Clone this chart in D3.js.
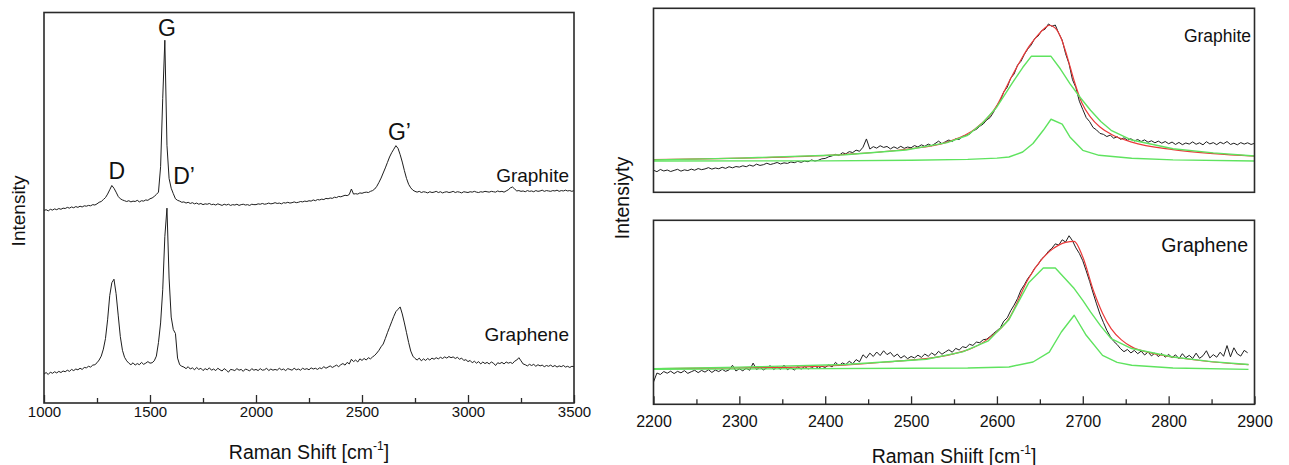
<!DOCTYPE html>
<html>
<head>
<meta charset="utf-8">
<script src="https://cdn.jsdelivr.net/npm/d3@7"></script>
<style>
  body { margin: 0; background: #fff; }
  svg { display: block; font-family: "Liberation Sans", Arial, sans-serif; }
</style>
</head>
<body>
<svg id="chart" width="1289" height="465"></svg>
<script>
// ---------- Overview spectra: 1000–3500 cm⁻¹, one sample every 10 cm⁻¹ ----------
const overviewStart = 1000, overviewEnd = 3500, overviewStep = 10;

const graphiteOverview = [
  49.3,49.5,49.2,49.6,49.4,49.7,49.5,49.8,49.6,49.9,
  49.8,50.1,49.9,50.2,50.0,50.3,50.1,50.4,50.2,50.5,
  50.4,50.6,50.5,50.8,50.7,51.0,51.4,51.6,52.1,52.6,
  53.5,54.6,55.7,55.0,54.0,52.9,52.3,52.0,51.8,51.6,
  51.8,51.5,51.7,51.6,51.9,51.5,51.8,51.7,52.0,51.9,
  52.3,52.5,52.9,53.4,54.0,60.5,78.0,92.9,66.0,57.5,
  55.0,53.6,52.3,51.9,51.7,51.4,51.5,51.2,51.4,51.1,
  51.3,51.0,51.2,50.9,51.1,50.8,51.0,50.9,51.1,50.8,
  50.9,50.7,51.0,50.8,50.6,50.9,50.7,50.9,50.6,50.8,
  50.7,50.9,50.6,50.8,50.9,50.7,50.8,50.6,50.9,50.8,
  50.8,51.0,50.9,51.1,50.9,51.0,51.2,51.0,51.1,51.3,
  51.1,51.2,51.0,51.3,51.2,51.4,51.2,51.3,51.5,51.3,
  51.4,51.6,51.5,51.7,51.6,51.8,51.7,52.0,51.8,52.1,
  52.0,52.2,52.1,52.4,52.3,52.5,52.4,52.7,52.6,52.9,
  52.8,53.0,53.2,53.1,53.4,54.8,53.5,53.6,53.5,53.8,
  53.7,53.9,54.0,53.9,54.2,54.4,54.8,55.5,56.5,57.6,
  58.9,60.2,61.6,63.0,64.1,65.0,65.9,65.2,63.6,61.7,
  59.5,57.5,56.0,55.1,54.5,54.2,54.0,54.2,53.9,54.1,
  54.0,53.8,54.1,53.9,54.0,54.2,53.9,54.1,53.8,54.0,
  54.1,53.9,54.0,54.2,53.9,54.1,54.0,53.8,54.1,54.0,
  53.9,54.1,54.0,54.2,54.0,53.9,54.1,54.0,54.2,54.1,
  54.0,54.2,54.1,54.0,54.3,54.1,54.2,54.0,54.3,54.6,
  55.1,55.3,54.8,54.3,54.4,54.2,54.3,54.1,54.4,54.2,
  54.3,54.1,54.4,54.2,54.3,54.5,54.2,54.4,54.3,54.2,
  54.4,54.3,54.5,54.2,54.4,54.3,54.5,54.3,54.4,54.2,
  54.4
];

const grapheneOverview = [
  7.4,7.8,7.3,7.9,7.6,8.0,7.7,8.1,7.8,8.2,
  8.0,8.4,8.1,8.6,8.3,8.7,8.5,8.9,8.6,9.1,
  9.0,9.4,9.2,9.7,9.8,10.3,11.0,12.0,13.8,16.5,
  21.3,27.5,30.8,31.7,28.0,22.5,17.0,13.5,11.7,10.8,
  10.2,9.8,10.3,9.7,10.1,9.8,10.4,9.9,10.2,10.6,
  10.2,10.3,10.8,12.0,15.5,20.5,29.0,42.6,49.9,32.0,
  22.0,18.8,17.8,11.5,9.8,9.4,9.2,8.8,9.3,8.7,
  9.0,8.5,9.1,8.6,8.9,8.3,8.8,8.5,9.0,8.4,
  8.7,8.3,8.9,8.5,8.2,8.8,8.4,7.9,8.6,8.5,
  8.3,8.8,8.4,8.6,8.1,8.7,8.5,8.2,8.8,8.4,
  8.6,8.3,8.8,8.4,8.5,8.9,8.3,8.7,8.4,8.6,
  8.4,8.9,8.5,8.7,8.3,8.8,8.6,8.4,8.9,8.5,
  8.7,8.4,8.9,8.6,8.8,8.5,9.0,8.7,8.9,8.6,
  9.0,8.8,9.3,8.9,9.2,9.5,9.1,9.4,9.7,9.3,
  9.8,10.1,9.7,10.4,10.0,11.2,10.6,11.0,10.5,11.3,
  10.9,11.4,11.0,11.6,11.3,11.8,12.2,12.8,13.5,14.4,
  15.1,16.5,18.0,19.4,20.8,22.2,23.4,24.0,24.6,22.8,
  20.5,18.0,15.5,13.3,12.0,11.4,11.0,11.5,10.8,11.3,
  10.9,11.4,11.0,11.5,11.2,11.6,11.3,11.7,11.4,11.8,
  11.5,11.9,11.6,11.8,11.4,11.7,11.2,11.5,10.9,11.1,
  10.6,10.9,10.3,10.7,10.2,10.6,10.0,10.5,10.1,10.4,
  10.0,10.5,10.2,9.6,10.3,10.1,10.4,10.0,10.5,10.2,
  10.4,10.1,10.7,11.0,11.6,10.8,10.0,9.8,9.5,9.9,
  9.6,9.9,9.4,9.8,9.5,9.7,9.3,9.6,9.4,9.7,
  9.3,9.6,9.2,9.5,9.3,9.6,9.2,9.4,9.1,9.4,
  9.3
];

const overviewTicks = [1000, 1500, 2000, 2500, 3000, 3500];
const overviewMinorTicks = [1250, 1750, 2250, 2750, 3250];

// Band names and the wavenumber of the graphite band each one marks
const bandNames = ["D", "G", "D\u2019", "G\u2019"];
const bandShifts = [1320, 1570, 1600, 2660];

// ---------- 2D (G') band detail: 2200–2900 cm⁻¹, one sample every 4 cm⁻¹ ----------
const detailStep = 4;

const graphiteDetail = [
  12.0,11.2,12.4,11.6,12.1,11.3,11.9,12.5,11.5,12.2,11.8,12.6,12.0,12.9,12.3,12.7,13.4,12.6,13.2,12.8,13.6,13.0,13.9,13.3,14.0,
  13.7,14.4,13.9,14.8,14.2,15.3,14.6,15.0,15.8,15.1,15.6,16.2,15.4,16.0,15.7,16.5,16.1,16.8,16.3,17.0,16.6,17.6,17.0,17.4,18.2,
  18.4,19.3,19.8,20.6,20.0,21.5,20.9,22.1,21.6,22.9,22.3,24.5,29.0,23.5,24.8,24.0,25.3,24.4,24.9,23.6,24.7,23.8,25.0,23.9,24.6,
  24.2,25.4,24.6,25.8,25.0,26.2,25.3,26.5,27.8,26.4,27.5,28.4,27.6,29.0,28.7,30.4,30.9,31.6,33.4,34.2,35.9,37.1,39.3,40.6,43.5,
  47.2,49.8,54.6,57.1,62.0,64.3,69.1,71.2,75.0,77.9,80.1,83.6,84.9,87.8,88.6,91.5,90.2,90.9,86.4,82.7,75.3,69.8,61.2,56.9,49.5,
  45.0,40.6,38.4,35.2,33.9,32.0,31.5,30.3,31.1,29.4,30.2,28.8,29.6,28.3,29.1,27.9,28.7,27.6,28.5,27.2,28.0,26.9,27.8,26.7,27.6,
  26.4,27.3,26.0,27.1,25.9,26.8,26.2,27.4,26.1,26.9,25.8,27.5,26.3,27.0,25.9,27.2,26.4,27.6,26.0,26.7,25.8,27.0,26.2,26.9,26.0,26.6
];

const grapheneDetail = [
  12.1,17.0,16.2,17.8,16.9,18.0,16.7,17.9,17.1,18.3,16.8,17.7,18.5,17.2,18.4,17.5,18.8,17.3,18.6,17.8,19.0,17.9,18.7,21.2,18.1,
  19.3,18.2,19.6,18.5,22.4,18.9,20.1,18.7,19.8,21.0,18.9,20.3,19.0,21.3,18.8,19.9,18.6,20.4,19.1,20.6,19.2,19.8,20.9,19.5,20.7,
  20.0,21.4,20.3,22.8,21.0,22.5,21.6,23.4,22.0,24.3,23.1,26.9,25.2,27.8,26.0,28.4,26.5,29.1,27.0,28.2,25.9,27.3,25.1,26.4,24.8,
  26.0,25.2,26.7,25.5,27.3,26.1,27.9,26.6,28.8,27.2,28.5,29.6,28.3,30.4,29.5,31.3,30.8,32.6,32.0,33.8,33.5,35.1,35.4,36.8,38.5,
  40.0,41.6,45.2,47.0,50.8,53.9,57.5,62.1,65.0,68.4,70.8,74.0,76.0,79.0,80.6,83.2,84.8,87.2,86.5,89.4,88.2,91.6,88.9,85.0,82.0,
  78.0,72.5,66.8,60.5,54.6,49.0,44.5,40.2,36.9,34.2,32.5,30.2,28.6,29.8,27.9,29.3,27.5,28.9,26.8,28.4,26.3,27.9,25.9,27.6,25.6,
  27.1,25.4,26.9,24.8,27.5,25.3,26.6,24.9,27.8,25.0,26.4,29.1,25.2,27.0,25.6,28.3,26.1,31.9,25.8,30.7,27.4,26.2,29.3,28.0
];

// Lorentzian fit of the graphite band: cumulative fit and its two components
const graphiteFitShift = [2200,2327,2423,2494,2542,2575,2599,2608,2618,2628,2637,2646,2654,2661,2668,2675,2682,2690,2699,2709,2720,2733,2757,2805,2852,2900];
const graphiteFitSum   = [17.8,18.8,20.6,23.4,27.3,34.6,46.4,54.5,63.6,72.0,79.0,84.5,88.5,90.8,89.2,83.5,73.5,60.5,48.5,40.9,35.5,31.6,27.3,23.2,21.0,19.7];
const graphiteBandAShift = [2200,2300,2423,2494,2542,2566,2583,2599,2618,2630,2640,2652,2663,2674,2685,2697,2709,2721,2733,2757,2805,2852,2900];
const graphiteBandA      = [17.6,18.6,20.4,23.0,27.0,31.0,37.5,45.8,59.5,67.8,73.9,74.0,73.9,67.0,59.1,51.5,44.6,38.5,33.7,28.4,23.7,21.4,19.7];
const graphiteBandBShift = [2200,2400,2500,2566,2600,2614,2630,2642,2654,2663,2676,2685,2700,2719,2757,2805,2900];
const graphiteBandB      = [17.0,17.1,17.4,17.9,18.6,19.2,21.9,26.5,33.7,39.7,37.0,30.1,22.8,20.1,18.5,17.6,17.0];

// Lorentzian fit of the graphene band: cumulative fit and its two components
const grapheneFitShift = [2200,2300,2375,2471,2542,2590,2614,2637,2650,2661,2672,2680,2690,2700,2713,2723,2733,2745,2757,2780,2805,2852,2893];
const grapheneFitSum   = [19.4,19.8,20.3,23.0,26.6,35.7,46.6,68.5,77.5,83.0,86.5,88.0,88.6,80.0,61.0,49.5,41.1,35.0,31.2,27.8,25.7,23.0,21.6];
const grapheneBandAShift = [2200,2300,2423,2518,2560,2590,2614,2637,2654,2668,2679,2690,2700,2709,2721,2733,2757,2805,2850,2893];
const grapheneBandA      = [19.4,20.2,21.6,24.5,28.5,34.5,46.0,66.0,74.1,74.1,68.5,62.9,56.5,50.2,42.5,35.7,30.3,25.7,23.2,21.6];
const grapheneBandBShift = [2200,2566,2614,2642,2661,2675,2690,2704,2723,2740,2757,2805,2893];
const grapheneBandB      = [19.0,19.7,20.3,23.0,28.4,39.3,48.4,37.5,26.6,22.8,21.2,19.7,19.0];

const detailTicks = [2200, 2300, 2400, 2500, 2600, 2700, 2800, 2900];
const detailMinorTicks = [2250, 2350, 2450, 2550, 2650, 2750, 2850];

// ---------- drawing ----------
const svg = d3.select("#chart");
const ink = "#111";
const frameColor = "#2a2a2a";
const traceColor = "#1e1e1e";
const fitRed = "#ea3a3a";
const fitGreen = "#5fe35f";

const zip = (xs, ys) => xs.map((x, i) => [x, ys[i]]);

// Scales
const xOverview = d3.scaleLinear().domain([overviewStart, overviewEnd]).range([44, 574]);
const yOverview = d3.scaleLinear().domain([0, 100]).range([403, 12.5]);
const xDetail = d3.scaleLinear().domain([2200, 2900]).range([653.5, 1254.5]);
const yDetailTop = d3.scaleLinear().domain([0, 100]).range([192.3, 8.3]);
const yDetailBottom = d3.scaleLinear().domain([0, 100]).range([404.3, 220.3]);

function clipFor(id, x, y) {
  svg.append("clipPath").attr("id", id)
    .append("rect")
    .attr("x", x.range()[0]).attr("y", y.range()[1])
    .attr("width", x.range()[1] - x.range()[0])
    .attr("height", y.range()[0] - y.range()[1]);
  return svg.append("g").attr("clip-path", `url(#${id})`);
}

function frame(x, y) {
  svg.append("rect")
    .attr("x", x.range()[0]).attr("y", y.range()[1])
    .attr("width", x.range()[1] - x.range()[0])
    .attr("height", y.range()[0] - y.range()[1])
    .attr("fill", "none").attr("stroke", frameColor).attr("stroke-width", 1.6);
}

function trace(g, x, y, points, color, width, curve) {
  g.append("path")
    .datum(points)
    .attr("fill", "none")
    .attr("stroke", color)
    .attr("stroke-width", width)
    .attr("stroke-linejoin", "round")
    .attr("d", d3.line().x(d => x(d[0])).y(d => y(d[1])).curve(curve || d3.curveLinear));
}

function bottomAxis(x, y0, major, minor, fontSize, padding) {
  const gMinor = svg.append("g").attr("transform", `translate(0,${y0})`)
    .call(d3.axisBottom(x).tickValues(minor).tickSize(-5).tickFormat(""));
  gMinor.select(".domain").remove();
  const gMajor = svg.append("g").attr("transform", `translate(0,${y0})`)
    .call(d3.axisBottom(x).tickValues(major).tickSize(-8).tickPadding(padding).tickFormat(d3.format("d")));
  gMajor.select(".domain").remove();
  [gMinor, gMajor].forEach(g => {
    g.attr("font-family", null).attr("font-size", null);
    g.selectAll(".tick line").attr("stroke", frameColor).attr("stroke-width", 1.3);
  });
  gMajor.selectAll(".tick text").attr("fill", ink).attr("font-size", fontSize);
}

function label(text, x, y, size, anchor) {
  return svg.append("text")
    .attr("x", x).attr("y", y)
    .attr("text-anchor", anchor || "middle")
    .attr("font-size", size)
    .attr("fill", ink)
    .text(text);
}

function shiftTitle(text, cx, baseline, size) {
  const t = svg.append("text")
    .attr("x", cx).attr("y", baseline)
    .attr("text-anchor", "middle")
    .attr("font-size", size)
    .attr("fill", ink);
  t.append("tspan").text(text + " [cm");
  t.append("tspan").attr("font-size", size * 0.62).attr("dy", -size * 0.42).text("-1");
  t.append("tspan").attr("dy", size * 0.42).text("]");
}

function yTitle(text, baselineX, cy, size) {
  svg.append("text")
    .attr("transform", `translate(${baselineX},${cy}) rotate(-90)`)
    .attr("text-anchor", "middle")
    .attr("font-size", size)
    .attr("fill", ink)
    .text(text);
}

// ----- Left panel: full spectra -----
const overviewShifts = d3.range(overviewStart, overviewEnd + 1, overviewStep);
const gOverview = clipFor("clip-overview", xOverview, yOverview);
trace(gOverview, xOverview, yOverview, zip(overviewShifts, graphiteOverview), traceColor, 1);
trace(gOverview, xOverview, yOverview, zip(overviewShifts, grapheneOverview), traceColor, 1);
frame(xOverview, yOverview);
bottomAxis(xOverview, 403, overviewTicks, overviewMinorTicks, 15, 3);

// Band labels sit just above the graphite peaks
const bandOffsets = [[5, -6, "middle"], [2, -4, "middle"], [2, -4, "start"], [3.5, -5.5, "middle"]];
bandNames.forEach((name, i) => {
  const v = graphiteOverview[overviewShifts.indexOf(bandShifts[i])];
  const [dx, dy, anchor] = bandOffsets[i];
  label(name, xOverview(bandShifts[i]) + dx, yOverview(v) + dy, 23, anchor);
});

label("Graphite", 569, 182, 19, "end");
label("Graphene", 569, 341, 19, "end");
shiftTitle("Raman Shift", 309, 458.5, 19.5);
yTitle("Intensity", 25, 211, 19);

// ----- Right panels: 2D band with Lorentzian fits -----
const graphiteShifts = d3.range(2200, 2901, detailStep);
const grapheneShifts = d3.range(2200, 2893, detailStep);

const gTop = clipFor("clip-top", xDetail, yDetailTop);
trace(gTop, xDetail, yDetailTop, zip(graphiteShifts, graphiteDetail), traceColor, 1);
trace(gTop, xDetail, yDetailTop, zip(graphiteFitShift, graphiteFitSum), fitRed, 1.2, d3.curveMonotoneX);
trace(gTop, xDetail, yDetailTop, zip(graphiteBandAShift, graphiteBandA), fitGreen, 1.4);
trace(gTop, xDetail, yDetailTop, zip(graphiteBandBShift, graphiteBandB), fitGreen, 1.4);
frame(xDetail, yDetailTop);

const gBottom = clipFor("clip-bottom", xDetail, yDetailBottom);
trace(gBottom, xDetail, yDetailBottom, zip(grapheneShifts, grapheneDetail), traceColor, 1);
trace(gBottom, xDetail, yDetailBottom, zip(grapheneFitShift, grapheneFitSum), fitRed, 1.2, d3.curveMonotoneX);
trace(gBottom, xDetail, yDetailBottom, zip(grapheneBandAShift, grapheneBandA), fitGreen, 1.4);
trace(gBottom, xDetail, yDetailBottom, zip(grapheneBandBShift, grapheneBandB), fitGreen, 1.4);
frame(xDetail, yDetailBottom);
bottomAxis(xDetail, 404.3, detailTicks, detailMinorTicks, 16, 11.5);

label("Graphite", 1251, 42, 17.5, "end");
label("Graphene", 1248, 252, 19.5, "end");
shiftTitle("Raman Shiift", 954, 462.5, 19.5);
yTitle("Intensiyty", 629, 198, 19.5);
</script>
</body>
</html>
